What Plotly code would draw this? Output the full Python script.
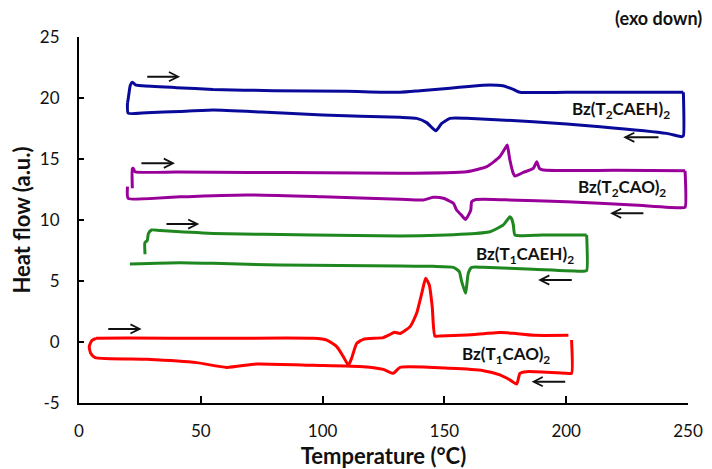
import plotly.graph_objects as go

# ---------------- data ----------------
# Bz(T2CAEH)2  (blue)
t2caeh_heat_x = [19.9, 20.1, 20.6, 21.0, 21.9, 23.2, 26, 40, 55, 80, 110, 131.8, 140, 152.3, 160, 168.7, 174, 178.3, 181, 200, 225, 248.1]
t2caeh_heat_y = [19.6, 19.8, 20.5, 21.0, 21.3, 21.07, 21.0, 20.85, 20.7, 20.6, 20.55, 20.47, 20.6, 20.8, 20.95, 21.07, 21.0, 20.7, 20.47, 20.47, 20.47, 20.47]
t2caeh_cool_x = [248.1, 248.1, 247.4, 241.2, 213.9, 186.5, 159.2, 152.3, 148.9, 146.5, 142.7, 138.6, 131.8, 100, 75, 55.1, 41.5, 27.8, 20.2, 19.9]
t2caeh_cool_y = [20.47, 16.9, 16.83, 17.1, 17.65, 18.06, 18.33, 18.33, 17.92, 17.32, 17.98, 18.33, 18.42, 18.6, 18.85, 19.02, 18.9, 18.8, 18.75, 19.6]

# Bz(T2CAO)2  (purple)
t2cao_heat_x = [21.9, 21.9, 22.3, 23.0, 40, 70, 100, 131.8, 159.2, 167.4, 172.8, 175.0, 175.8, 176.8, 178.3, 179.0, 182.4, 186.5, 187.9, 189.0, 190.6, 220, 248.8]
t2cao_heat_y = [12.6, 14.2, 14.23, 13.96, 13.93, 13.9, 13.87, 13.83, 13.96, 14.37, 15.2, 15.9, 16.15, 15.0, 13.8, 13.6, 13.9, 14.23, 14.78, 14.23, 14.1, 14.07, 14.04]
t2cao_cool_x = [248.8, 248.8, 247, 227.5, 200.2, 175, 166, 163, 161.2, 160.8, 158.7, 157.0, 155.0, 153.7, 149.6, 145.4, 141.3, 131.8, 100, 68.8, 41.5, 20.2, 19.9]
t2cao_cool_y = [14.04, 11.05, 11.0, 11.23, 11.5, 11.65, 11.7, 11.68, 11.5, 10.8, 10.05, 10.4, 10.82, 11.37, 11.78, 11.86, 11.64, 11.7, 11.9, 12.05, 11.9, 11.78, 12.73]

# Bz(T1CAEH)2  (green)
t1caeh_heat_x = [27.1, 27.0, 27.4, 28.0, 28.5, 29.8, 33.3, 55.1, 96.2, 131.8, 159.2, 168.7, 174.2, 176.2, 176.9, 177.6, 178.3, 179.0, 190, 208.4]
t1caeh_heat_y = [7.19, 8.1, 8.22, 8.3, 8.9, 9.18, 9.13, 8.9, 8.77, 8.69, 8.85, 9.04, 9.6, 10.1, 10.27, 10.1, 9.6, 8.77, 8.77, 8.77]
t1caeh_cool_x = [208.4, 208.4, 207, 186.5, 166, 161.2, 159.8, 158.7, 157.1, 156.1, 153.7, 145.4, 131.8, 82.5, 55.1, 41.5, 20.9]
t1caeh_cool_y = [8.77, 5.85, 5.8, 5.96, 6.12, 6.12, 5.63, 3.99, 4.95, 5.77, 6.12, 6.2, 6.23, 6.31, 6.45, 6.5, 6.39]

# Bz(T1CAO)2  (red)
t1cao_heat_x = [7.0, 20, 55.1, 96.2, 101.7, 105.8, 108.5, 110.6, 111.9, 114.0, 116.7, 124.9, 127.5, 129.5, 131.8, 135.9, 138.6, 140.7, 142.3, 143.8, 145.0, 146.1, 148.2, 159.2, 172.8, 178.3, 186.5, 200.9]
t1cao_heat_y = [0.3, 0.32, 0.3, 0.3, 0.16, -0.38, -1.2, -1.89, -1.34, -0.11, 0.22, 0.36, 0.6, 0.8, 0.7, 1.26, 2.35, 3.99, 5.22, 4.67, 2.9, 0.49, 0.49, 0.57, 0.77, 0.71, 0.55, 0.55]
t1cao_cool_x = [202.2, 202.2, 200.2, 183.8, 181.0, 179.7, 176.9, 172.8, 166.0, 152.3, 131.8, 129.0, 124.9, 116.7, 96.2, 72.9, 60.6, 48.3, 27.8, 6.6, 4.8, 4.2, 5.2, 7.0]
t1cao_cool_y = [0.16, -2.57, -2.57, -2.43, -2.57, -3.44, -3.11, -2.7, -2.35, -2.16, -2.08, -2.57, -2.24, -2.02, -1.91, -1.8, -2.08, -1.69, -1.42, -1.28, -0.93, -0.38, 0.11, 0.3]

series_names = ["Bz(T<sub>2</sub>CAEH)<sub>2</sub>", "Bz(T<sub>2</sub>CAO)<sub>2</sub>",
                "Bz(T<sub>1</sub>CAEH)<sub>2</sub>", "Bz(T<sub>1</sub>CAO)<sub>2</sub>"]
series_colors = ["#0a0a9a", "#990099", "#1f871f", "#ff0000"]

# label anchor positions (data units)
label_x = [222.5, 223.1, 183.1, 175.3]
label_y = [19.0, 12.6, 7.1, -1.1]

# heating / cooling direction arrows: tail x, head x, y
arrow_tail_x = [27.4, 238.5, 25.0, 232.3, 35.3, 202.9, 11.4, 200.2]
arrow_head_x = [41.5, 223.4, 39.4, 218.0, 49.4, 188.5, 25.7, 185.8]
arrow_y = [21.75, 16.78, 14.65, 10.55, 9.67, 5.08, 1.07, -3.25]

x_ticks = [0, 50, 100, 150, 200, 250]
y_ticks = [-5, 0, 5, 10, 15, 20, 25]

# ---------------- figure ----------------
FONT = "Lato"
fig = go.Figure()

curves = [
    (t2caeh_heat_x, t2caeh_heat_y, t2caeh_cool_x, t2caeh_cool_y),
    (t2cao_heat_x, t2cao_heat_y, t2cao_cool_x, t2cao_cool_y),
    (t1caeh_heat_x, t1caeh_heat_y, t1caeh_cool_x, t1caeh_cool_y),
    (t1cao_heat_x, t1cao_heat_y, t1cao_cool_x, t1cao_cool_y),
]
for (hx, hy, cx, cy), name, col in zip(curves, series_names, series_colors):
    for xs, ys in ((hx, hy), (cx, cy)):
        fig.add_trace(go.Scatter(x=xs, y=ys, mode="lines", name=name, showlegend=False,
                                 line=dict(color=col, width=3, shape="spline", smoothing=0.5),
                                 hoverinfo="skip"))

for name, lx, ly in zip(series_names, label_x, label_y):
    fig.add_annotation(x=lx, y=ly, xref="x", yref="y", text="<b>" + name + "</b>",
                       showarrow=False, font=dict(family=FONT, size=17, color="#111111"),
                       xanchor="center", yanchor="middle")

for tx, hx, ay in zip(arrow_tail_x, arrow_head_x, arrow_y):
    fig.add_annotation(x=hx, y=ay, ax=tx, ay=ay, xref="x", yref="y", axref="x", ayref="y",
                       text="", showarrow=True, arrowhead=5, arrowsize=0.9, arrowwidth=2,
                       arrowcolor="#111111", standoff=0, startstandoff=0)

fig.add_annotation(x=0.952, y=1.052, xref="paper", yref="paper", text="<b>(exo down)</b>",
                   showarrow=False, font=dict(family=FONT, size=18, color="#111111"),
                   xanchor="center", yanchor="middle")

# the page body adds an 8px margin, so the figure is drawn 8px smaller and
# its margins reduced by 8px to land the plot area where the reference has it
fig.update_layout(
    width=704, height=461,
    margin=dict(l=71, r=24, t=29, b=66, autoexpand=False),
    plot_bgcolor="white", paper_bgcolor="white",
    font=dict(family=FONT, color="#111111"),
    showlegend=False,
)
fig.update_xaxes(range=[0, 250], tickvals=x_ticks, ticktext=[str(v) for v in x_ticks],
                 automargin=False,
                 showgrid=False, zeroline=False, showline=True, linecolor="black", linewidth=2,
                 ticks="inside", ticklen=7, tickwidth=2, tickcolor="black",
                 tickfont=dict(family=FONT, size=17, color="#111111"), ticklabelstandoff=12,
                 title=dict(text="<b>Temperature (°C)</b>", font=dict(family=FONT, size=22, color="#111111"), standoff=9))
fig.update_yaxes(range=[-5, 25], tickvals=y_ticks, ticktext=[str(v) for v in y_ticks],
                 automargin=False,
                 showgrid=False, zeroline=False, showline=True, linecolor="black", linewidth=2,
                 ticks="inside", ticklen=5, tickwidth=2, tickcolor="black",
                 tickfont=dict(family=FONT, size=17, color="#111111"), ticklabelstandoff=14,
                 title=dict(text="<b>Heat flow (a.u.)</b>", font=dict(family=FONT, size=22, color="#111111"), standoff=3))

fig.write_html("out.html")
